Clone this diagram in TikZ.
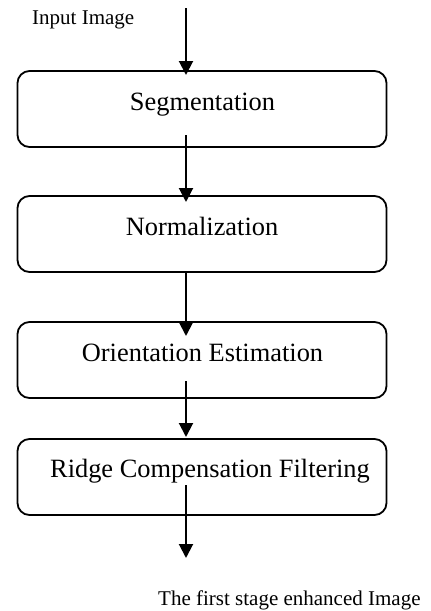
\documentclass[tikz,border=0pt]{standalone}
\usepackage{fontspec}
\setmainfont{Liberation Serif}
\usetikzlibrary{arrows.meta}
\begin{document}
\begin{tikzpicture}[x=1pt,y=-1pt,
  stagebox/.style={draw, line width=1.8pt, rounded corners=12pt, minimum width=369pt, minimum height=76pt, inner sep=0pt},
  boxtext/.style={font=\fontsize{26.4}{30}\selectfont, anchor=base, inner sep=0pt},
  smalltext/.style={font=\fontsize{21}{25}\selectfont, anchor=base west, inner sep=0pt},
  flow/.style={line width=2pt, -{Triangle[length=14pt,width=14pt]}}]
\useasboundingbox (0,0) rectangle (431,611);
% boxes
\node[stagebox] (b1) at (202,109) {};
\node[stagebox] (b2) at (202,234) {};
\node[stagebox] (b3) at (202,360) {};
\node[stagebox] (b4) at (202,477) {};
% texts
\node[boxtext] (t1) at (202.5,110) {Segmentation};
\node[boxtext] (t2) at (202,235) {Normalization};
\node[boxtext] (t3) at (202.5,361) {Orientation Estimation};
\node[boxtext] (t4) at (210,477) {Ridge Compensation Filtering};
\node[smalltext] (inp) at (32,24) {Input Image};
\node[smalltext] (outp) at (158,605) {The first stage enhanced Image};
% arrow end points
\coordinate (s0) at (186,8);
\coordinate (e0) at (186,75);
\coordinate (s1) at (186,135);
\coordinate (e1) at (186,202);
\coordinate (s2) at (186,272);
\coordinate (e2) at (186,336);
\coordinate (s3) at (186,381);
\coordinate (e3) at (186,437);
\coordinate (s4) at (186,485);
\coordinate (e4) at (186,558);
% arrows
\draw[flow] (s0) -- (e0);
\draw[flow] (s1) -- (e1);
\draw[flow] (s2) -- (e2);
\draw[flow] (s3) -- (e3);
\draw[flow] (s4) -- (e4);
\end{tikzpicture}
\end{document}
